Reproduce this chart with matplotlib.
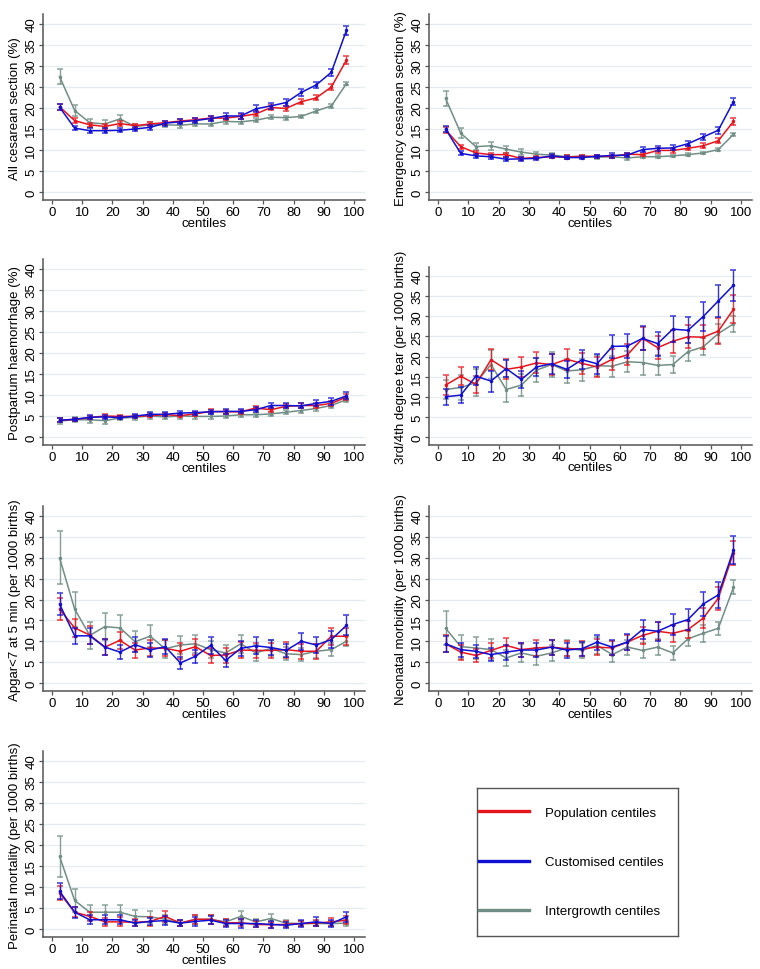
import matplotlib
matplotlib.use("Agg")
import matplotlib.pyplot as plt
from matplotlib.lines import Line2D
import numpy as np

plt.rcParams['font.family'] = ['Liberation Sans', 'DejaVu Sans']

# centile groups (midpoints of 5-centile bins)
centiles = [2.5, 7.5, 12.5, 17.5, 22.5, 27.5, 32.5, 37.5, 42.5, 47.5,
            52.5, 57.5, 62.5, 67.5, 72.5, 77.5, 82.5, 87.5, 92.5, 97.5]

series_names = ['Population centiles', 'Customised centiles', 'Intergrowth centiles']

# --- All cesarean section (%)
cs_pop = [20.3, 17.0, 16.0, 15.6, 16.3, 15.8, 16.2, 16.5, 16.9, 17.2,
          17.6, 17.6, 18.0, 18.6, 20.1, 19.9, 21.5, 22.4, 25.0, 31.4]
cs_pop_err = [0.7, 0.6, 0.5, 0.5, 0.5, 0.5, 0.5, 0.5, 0.5, 0.5,
              0.5, 0.5, 0.6, 0.6, 0.6, 0.6, 0.6, 0.6, 0.7, 0.9]
cs_cus = [20.2, 15.2, 14.6, 14.6, 14.7, 15.0, 15.4, 16.4, 16.7, 17.0,
          17.5, 18.1, 18.1, 19.8, 20.5, 21.3, 23.7, 25.5, 28.5, 38.5]
cs_cus_err = [0.7, 0.5, 0.6, 0.6, 0.5, 0.5, 0.6, 0.6, 0.6, 0.6,
              0.6, 0.7, 0.7, 0.8, 0.7, 0.8, 0.8, 0.8, 0.9, 1.0]
cs_int = [27.5, 19.4, 16.5, 16.2, 17.4, 15.6, 16.0, 16.0, 15.9, 16.2,
          16.2, 16.8, 16.7, 17.1, 17.8, 17.7, 18.0, 19.3, 20.5, 25.8]
cs_int_err = [1.8, 1.3, 1.0, 1.0, 1.0, 0.7, 0.6, 0.5, 0.6, 0.6,
              0.6, 0.6, 0.6, 0.5, 0.5, 0.5, 0.4, 0.4, 0.4, 0.4]

# --- Emergency cesarean section (%)
ecs_pop = [14.8, 10.8, 9.3, 8.9, 8.9, 8.0, 8.2, 8.4, 8.3, 8.5,
           8.5, 8.5, 9.0, 8.9, 9.9, 9.9, 10.4, 11.0, 12.2, 16.8]
ecs_pop_err = [0.7, 0.5, 0.5, 0.5, 0.5, 0.4, 0.4, 0.4, 0.4, 0.4,
               0.4, 0.4, 0.4, 0.4, 0.5, 0.5, 0.5, 0.6, 0.6, 0.8]
ecs_cus = [15.0, 9.2, 8.6, 8.4, 7.8, 7.9, 8.0, 8.6, 8.2, 8.2,
           8.5, 8.7, 8.8, 10.1, 10.4, 10.5, 11.5, 13.1, 14.7, 21.5]
ecs_cus_err = [0.7, 0.5, 0.5, 0.5, 0.5, 0.4, 0.4, 0.4, 0.4, 0.4,
               0.4, 0.5, 0.5, 0.6, 0.6, 0.6, 0.6, 0.7, 0.8, 0.9]
ecs_int = [22.3, 14.0, 10.8, 11.0, 10.2, 9.5, 9.0, 8.8, 8.4, 8.5,
           8.3, 8.4, 8.1, 8.4, 8.4, 8.6, 8.9, 9.3, 10.1, 13.7]
ecs_int_err = [1.8, 1.2, 0.9, 0.9, 0.8, 0.7, 0.6, 0.5, 0.5, 0.4,
               0.4, 0.4, 0.4, 0.4, 0.4, 0.3, 0.3, 0.3, 0.3, 0.3]

# --- Postpartum haemorrhage (%)
pph_pop = [4.0, 4.2, 4.6, 5.0, 4.9, 4.9, 5.1, 5.3, 5.1, 5.5,
           6.1, 6.0, 6.0, 6.9, 6.5, 7.3, 7.5, 7.5, 8.0, 9.5]
pph_pop_err = [0.5, 0.4, 0.4, 0.5, 0.4, 0.4, 0.4, 0.4, 0.4, 0.4,
               0.5, 0.5, 0.5, 0.5, 0.5, 0.5, 0.5, 0.5, 0.6, 0.7]
pph_cus = [4.0, 4.2, 4.7, 4.8, 4.6, 5.0, 5.4, 5.4, 5.7, 5.8,
           6.0, 6.1, 6.1, 6.5, 7.5, 7.5, 7.4, 8.0, 8.5, 9.8]
pph_cus_err = [0.5, 0.4, 0.5, 0.5, 0.4, 0.4, 0.5, 0.5, 0.5, 0.5,
               0.5, 0.6, 0.5, 0.6, 0.7, 0.7, 0.6, 0.7, 0.8, 0.8]
pph_int = [3.8, 4.1, 4.1, 3.9, 4.5, 4.7, 5.0, 4.8, 5.0, 4.9,
           4.9, 5.0, 5.3, 5.3, 5.5, 5.9, 6.3, 6.8, 7.5, 8.9]
pph_int_err = [0.7, 0.6, 0.7, 0.8, 0.5, 0.6, 0.6, 0.6, 0.6, 0.6,
               0.6, 0.5, 0.5, 0.5, 0.5, 0.5, 0.5, 0.5, 0.5, 0.5]

# --- 3rd/4th degree tear (per 1000 births)
tear_pop = [12.9, 15.1, 13.1, 19.2, 16.8, 17.4, 18.4, 18.0, 19.3, 18.3,
            17.4, 19.3, 20.4, 24.5, 22.2, 23.8, 24.9, 24.8, 26.3, 31.7]
tear_pop_err = [2.4, 2.3, 2.1, 2.6, 2.5, 2.6, 2.6, 2.6, 2.6, 2.6,
                2.6, 2.6, 2.6, 2.9, 2.8, 2.9, 2.9, 3.0, 3.2, 3.5]
tear_cus = [10.0, 10.4, 15.1, 13.9, 17.0, 14.3, 17.4, 18.2, 16.8, 19.2,
            18.2, 22.5, 22.6, 24.5, 23.2, 26.8, 26.5, 29.9, 33.8, 37.7]
tear_cus_err = [2.0, 2.0, 2.3, 2.6, 2.2, 2.1, 2.2, 2.5, 2.2, 2.4,
                2.5, 2.8, 2.9, 3.0, 3.0, 3.3, 3.2, 3.6, 4.0, 3.9]
tear_int = [11.8, 12.3, 13.5, 18.0, 11.8, 12.9, 16.6, 18.0, 16.4, 16.7,
            17.7, 17.6, 18.7, 18.5, 17.8, 18.0, 21.2, 22.4, 25.7, 28.1]
tear_int_err = [2.3, 3.0, 3.4, 3.6, 3.0, 2.8, 3.0, 3.0, 3.1, 2.8,
                2.6, 2.6, 2.6, 3.0, 2.5, 2.2, 2.2, 2.1, 2.3, 1.9]

# --- Apgar<7 at 5 min (per 1000 births)
apg_pop = [17.7, 13.2, 11.5, 8.6, 10.2, 7.9, 8.4, 8.3, 7.6, 8.7,
           6.6, 6.7, 7.9, 7.8, 7.8, 8.0, 7.6, 7.6, 11.2, 11.2]
apg_pop_err = [2.6, 2.1, 2.2, 2.0, 2.1, 1.8, 2.0, 1.9, 1.9, 1.9,
               1.7, 1.8, 1.9, 1.8, 1.8, 1.9, 1.8, 1.8, 2.0, 2.0]
apg_cus = [18.9, 11.3, 11.3, 8.6, 7.4, 9.2, 7.9, 8.7, 4.8, 6.4,
           9.0, 5.4, 8.3, 8.9, 8.5, 7.8, 10.0, 9.1, 10.4, 13.8]
apg_cus_err = [2.6, 1.9, 1.9, 2.0, 1.6, 1.7, 1.7, 1.8, 1.4, 1.6,
               2.0, 1.5, 1.8, 2.0, 1.9, 1.6, 2.0, 2.0, 2.0, 2.4]
apg_int = [30.0, 17.7, 11.4, 13.5, 13.2, 9.9, 11.2, 8.2, 9.1, 9.4,
           8.0, 7.2, 9.4, 7.2, 8.3, 7.0, 6.8, 7.6, 8.0, 10.0]
apg_int_err = [6.3, 4.2, 3.2, 3.3, 3.2, 2.5, 2.6, 2.2, 2.1, 2.2,
               2.1, 1.8, 2.2, 1.9, 1.9, 1.6, 1.6, 1.7, 1.5, 1.2]

# --- Neonatal morbidity (per 1000 births)
nm_pop = [9.4, 7.4, 6.6, 7.8, 9.0, 8.0, 8.4, 8.6, 8.2, 8.2,
          8.6, 8.4, 9.8, 11.4, 12.4, 11.9, 12.8, 15.5, 20.3, 31.2]
nm_pop_err = [2.0, 1.8, 1.6, 1.7, 1.7, 1.7, 1.9, 1.8, 1.8, 1.8,
              1.9, 1.7, 1.8, 2.0, 2.2, 2.0, 2.1, 2.4, 2.7, 2.9]
nm_cus = [9.4, 8.0, 7.6, 6.8, 7.4, 7.9, 7.9, 8.6, 7.9, 8.2,
          9.8, 8.6, 9.8, 12.8, 12.4, 14.0, 15.2, 18.9, 21.1, 31.8]
nm_cus_err = [1.9, 1.7, 1.6, 1.5, 1.8, 1.7, 1.6, 1.8, 1.8, 1.7,
              1.8, 1.8, 1.9, 2.2, 2.3, 2.5, 2.5, 2.9, 3.2, 3.4]
nm_int = [13.1, 8.7, 8.4, 8.0, 6.0, 7.2, 6.4, 7.2, 8.4, 7.8,
          9.0, 6.8, 8.6, 7.8, 8.6, 7.2, 10.6, 11.9, 13.1, 22.9]
nm_int_err = [4.1, 2.9, 2.7, 2.5, 2.0, 2.1, 2.0, 2.0, 1.9, 1.9,
              2.0, 1.8, 1.8, 1.9, 1.9, 1.7, 1.8, 2.0, 1.5, 1.7]

# --- Perinatal mortality (per 1000 births)
pm_pop = [8.6, 4.0, 3.0, 1.7, 1.7, 1.6, 1.8, 3.0, 1.4, 2.3,
          2.3, 1.5, 1.5, 1.1, 1.0, 1.1, 1.3, 1.4, 1.7, 2.1]
pm_pop_err = [1.7, 1.2, 1.0, 1.0, 1.1, 0.9, 1.0, 1.3, 0.8, 1.0,
              1.0, 0.9, 0.9, 0.7, 0.7, 0.7, 0.7, 0.8, 0.9, 1.0]
pm_cus = [9.0, 4.0, 2.2, 2.2, 2.2, 1.4, 1.8, 2.0, 1.4, 1.8,
          2.1, 1.3, 1.3, 1.3, 1.1, 0.9, 1.3, 1.7, 1.3, 2.9]
pm_cus_err = [1.9, 1.3, 1.1, 1.1, 1.1, 0.8, 0.9, 1.0, 0.8, 1.1,
              1.0, 0.8, 1.0, 0.8, 0.8, 0.7, 0.8, 1.1, 0.8, 1.2]
pm_int = [17.3, 6.8, 4.0, 4.0, 4.0, 3.0, 2.9, 2.3, 1.4, 2.3,
          2.3, 1.7, 3.0, 1.7, 2.5, 1.4, 1.3, 1.3, 1.3, 1.4]
pm_int_err = [4.9, 2.8, 1.8, 1.8, 1.8, 1.6, 1.5, 1.1, 0.8, 1.0,
              1.0, 0.8, 1.2, 0.8, 1.0, 0.8, 0.7, 0.7, 0.7, 0.7]

panels = [
    ('All cesarean section (%)', cs_pop, cs_pop_err, cs_cus, cs_cus_err, cs_int, cs_int_err),
    ('Emergency cesarean section (%)', ecs_pop, ecs_pop_err, ecs_cus, ecs_cus_err, ecs_int, ecs_int_err),
    ('Postpartum haemorrhage (%)', pph_pop, pph_pop_err, pph_cus, pph_cus_err, pph_int, pph_int_err),
    ('3rd/4th degree tear (per 1000 births)', tear_pop, tear_pop_err, tear_cus, tear_cus_err, tear_int, tear_int_err),
    ('Apgar<7 at 5 min (per 1000 births)', apg_pop, apg_pop_err, apg_cus, apg_cus_err, apg_int, apg_int_err),
    ('Neonatal morbidity (per 1000 births)', nm_pop, nm_pop_err, nm_cus, nm_cus_err, nm_int, nm_int_err),
    ('Perinatal mortality (per 1000 births)', pm_pop, pm_pop_err, pm_cus, pm_cus_err, pm_int, pm_int_err),
]

RED = '#e8141c'
BLUE = '#1010d4'
GREY = '#708e85'

W, H = 760, 970
# pixel positions of x=0, x=100, y=0, y=40 in each panel
pix = [(52, 354, 193, 25), (438, 741, 193, 25),
       (52, 354, 438, 270), (438, 741, 438, 277),
       (52, 354, 684, 517), (438, 741, 684, 517),
       (52, 354, 930, 762)]

XLO, XHI, YLO, YHI = -3, 103.5, -2, 42.3
FS = 9.5


def rect(x0, x100, y0, y40):
    sx = (x100 - x0) / 100.0
    sy = (y0 - y40) / 40.0
    l = x0 + XLO * sx
    r = x0 + XHI * sx
    b = y0 - YLO * sy
    t = y0 - YHI * sy
    return [l / W, 1 - b / H, (r - l) / W, (b - t) / H]


fig = plt.figure(figsize=(W / 100, H / 100), dpi=100)

for (label, pop, pop_e, cus, cus_e, inte, inte_e), p in zip(panels, pix):
    ax = fig.add_axes(rect(*p))
    for vals, errs, col, z in [(inte, inte_e, GREY, 2), (pop, pop_e, RED, 3), (cus, cus_e, BLUE, 4)]:
        eb = ax.errorbar(centiles, vals, yerr=errs, color=col, lw=1.1, marker='o', ms=1.5,
                         elinewidth=1.0, capsize=2.3, capthick=1.3, zorder=z)
        for c in eb[1]:
            c.set_alpha(0.7)
        for c in eb[2]:
            c.set_alpha(0.85)
    ax.set_xlim(XLO, XHI)
    ax.set_ylim(YLO, YHI)
    ax.set_xticks(range(0, 101, 10))
    ax.set_yticks(range(0, 41, 5))
    ax.grid(axis='y', color='#e4ecf0', lw=0.9)
    ax.set_axisbelow(True)
    for s in ['top', 'right']:
        ax.spines[s].set_visible(False)
    for s in ['left', 'bottom']:
        ax.spines[s].set_color('#555555')
        ax.spines[s].set_linewidth(1.1)
    ax.tick_params(direction='out', length=3, width=0.9, color='#555555',
                   labelsize=FS, pad=1)
    for t in ax.get_yticklabels():
        t.set_rotation(90)
        t.set_va('center')
    ax.set_xlabel('centiles', fontsize=FS, labelpad=-1)
    ax.set_ylabel(label, fontsize=FS, labelpad=3)

# legend box
lax = fig.add_axes([477 / W, 1 - 937 / H, 201 / W, 148 / H])
lax.set_xticks([])
lax.set_yticks([])
for s in lax.spines.values():
    s.set_color('#555555')
    s.set_linewidth(1.0)
handles = [Line2D([], [], color=c, lw=2.4) for c in (RED, BLUE, GREY)]
lax.legend(handles, series_names, loc='center left', bbox_to_anchor=(0, 0.5),
           frameon=False, fontsize=FS, handlelength=3.8, handletextpad=1.2,
           labelspacing=2.8, borderaxespad=0.15, borderpad=0)

fig.savefig('out.png', dpi=100)
